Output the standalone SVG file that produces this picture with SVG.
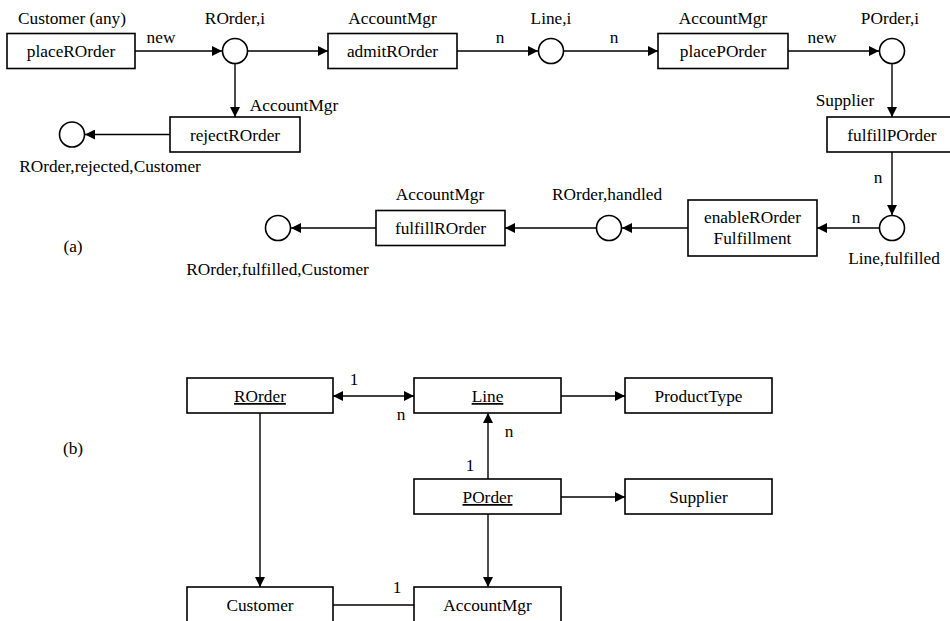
<svg xmlns="http://www.w3.org/2000/svg" width="950" height="621" viewBox="0 0 950 621" font-family="'Liberation Serif', Tinos, 'Times New Roman', 'DejaVu Serif', serif">
<style>
text{font-family:"Liberation Serif",Tinos,"Times New Roman","DejaVu Serif",serif;font-size:17.3px;fill:#000;text-anchor:middle}
.box{fill:#fff;stroke:#000;stroke-width:1.6}
.pl{fill:#fff;stroke:#000;stroke-width:1.6}
.c{stroke:#000;stroke-width:1.4;fill:none}
.a{marker-end:url(#ah)}
.u{text-decoration:underline}
</style>
<defs>
<marker id="ah" markerUnits="userSpaceOnUse" markerWidth="11" markerHeight="10" refX="10" refY="5" orient="auto-start-reverse"><path d="M0,0 L10,5 L0,10 z" fill="#000"/></marker>
</defs>
<rect width="950" height="621" fill="#fff"/>
<g id="connectors">
<line class="c a" x1="135" y1="51" x2="222" y2="51"/>
<line class="c a" x1="248" y1="51" x2="328" y2="51"/>
<line class="c a" x1="457" y1="51" x2="538" y2="51"/>
<line class="c a" x1="564" y1="51" x2="658" y2="51"/>
<line class="c a" x1="788" y1="51" x2="879" y2="51"/>
<line class="c a" x1="892" y1="64" x2="892" y2="117"/>
<line class="c a" x1="235" y1="64" x2="235" y2="117"/>
<line class="c a" x1="170" y1="134.5" x2="85" y2="134.5"/>
<line class="c a" x1="892" y1="152" x2="892" y2="215"/>
<line class="c a" x1="879" y1="228" x2="817" y2="228"/>
<line class="c a" x1="688" y1="228" x2="622" y2="228"/>
<line class="c a" x1="596" y1="228" x2="505" y2="228"/>
<line class="c a" x1="376" y1="228" x2="291" y2="228"/>
<line class="c a" x1="333" y1="396" x2="414" y2="396" marker-start="url(#ah)"/>
<line class="c a" x1="561" y1="396" x2="625" y2="396"/>
<line class="c a" x1="488" y1="479" x2="488" y2="413"/>
<line class="c a" x1="561" y1="497" x2="625" y2="497"/>
<line class="c a" x1="260" y1="413" x2="260" y2="587"/>
<line class="c a" x1="488" y1="514" x2="488" y2="587"/>
<line class="c" x1="333" y1="605" x2="414" y2="605"/>
<text x="161" y="43">new</text>
<text x="500" y="43">n</text>
<text x="614" y="43">n</text>
<text x="822" y="43">new</text>
<text x="878" y="183">n</text>
<text x="856" y="223">n</text>
<text x="354" y="385">1</text>
<text x="401" y="420">n</text>
<text x="509" y="437">n</text>
<text x="470" y="471">1</text>
<text x="397" y="593">1</text>
</g>
<g id="placeROrder"><rect class="box" x="7" y="33.5" width="128" height="35"/><text x="71" y="57">placeROrder</text><text x="72" y="24">Customer (any)</text></g>
<g id="ROrder-i"><circle class="pl" cx="235" cy="51" r="12.5"/><text x="235" y="24">ROrder,i</text></g>
<g id="admitROrder"><rect class="box" x="328" y="33.5" width="129" height="35"/><text x="392.5" y="57">admitROrder</text><text x="392.5" y="24">AccountMgr</text></g>
<g id="Line-i"><circle class="pl" cx="551" cy="51" r="12.5"/><text x="551" y="24">Line,i</text></g>
<g id="placePOrder"><rect class="box" x="658" y="33.5" width="130" height="35"/><text x="723" y="57">placePOrder</text><text x="723" y="24">AccountMgr</text></g>
<g id="POrder-i"><circle class="pl" cx="892" cy="51" r="12.5"/><text x="890" y="24">POrder,i</text></g>
<g id="rejectROrder"><rect class="box" x="170" y="117" width="130" height="35"/><text x="235" y="140.5">rejectROrder</text><text x="294" y="111">AccountMgr</text></g>
<g id="ROrder-rejected"><circle class="pl" cx="72" cy="134.5" r="12.5"/><text x="110" y="172">ROrder,rejected,Customer</text></g>
<g id="fulfillPOrder"><rect class="box" x="827" y="117" width="130" height="35"/><text x="892" y="140.5">fulfillPOrder</text><text x="845" y="106">Supplier</text></g>
<g id="Line-fulfilled"><circle class="pl" cx="892" cy="228" r="12.5"/><text x="894" y="264">Line,fulfilled</text></g>
<g id="enableROrderFulfillment"><rect class="box" x="688" y="200" width="129" height="56"/><text x="752.5" y="223">enableROrder</text><text x="752.5" y="244">Fulfillment</text></g>
<g id="ROrder-handled"><circle class="pl" cx="609" cy="228" r="12.5"/><text x="607" y="200">ROrder,handled</text></g>
<g id="fulfillROrder"><rect class="box" x="376" y="210.5" width="129" height="35"/><text x="440.5" y="234">fulfillROrder</text><text x="440" y="200">AccountMgr</text></g>
<g id="ROrder-fulfilled"><circle class="pl" cx="278" cy="228" r="12.5"/><text x="277.5" y="275">ROrder,fulfilled,Customer</text></g>
<g id="label-a"><text x="73" y="252">(a)</text></g>
<g id="label-b"><text x="73" y="454">(b)</text></g>
<g id="ROrder"><rect class="box" x="187" y="378" width="146" height="35"/><text class="u" x="260" y="402">ROrder</text></g>
<g id="Line"><rect class="box" x="414" y="378" width="147" height="35"/><text class="u" x="487.5" y="402">Line</text></g>
<g id="ProductType"><rect class="box" x="625" y="378" width="147" height="35"/><text x="698.5" y="402">ProductType</text></g>
<g id="POrder"><rect class="box" x="414" y="479" width="147" height="35"/><text class="u" x="487.5" y="503">POrder</text></g>
<g id="Supplier"><rect class="box" x="625" y="479" width="147" height="35"/><text x="698.5" y="503">Supplier</text></g>
<g id="Customer"><rect class="box" x="187" y="587" width="146" height="35"/><text x="260" y="611">Customer</text></g>
<g id="AccountMgr"><rect class="box" x="414" y="587" width="147" height="35"/><text x="487.5" y="611">AccountMgr</text></g>
</svg>
